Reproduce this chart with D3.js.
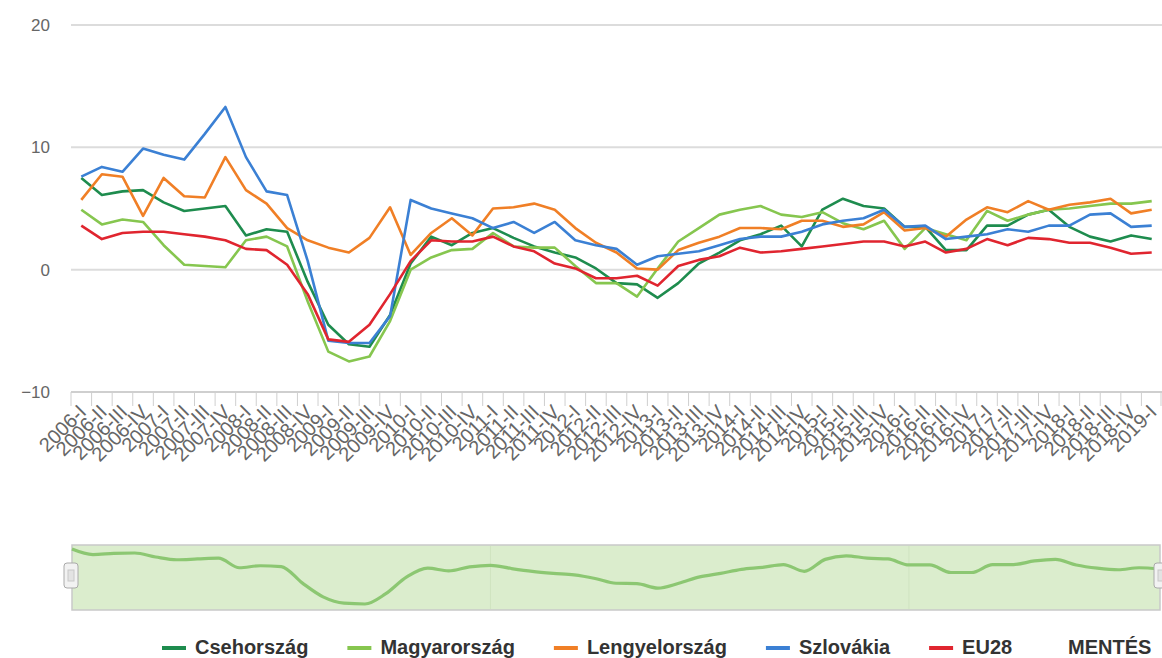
<!DOCTYPE html>
<html>
<head>
<meta charset="utf-8">
<script src="https://cdn.jsdelivr.net/npm/d3@7"></script>
<style>
  body { margin: 0; background: #fff; }
  svg { display: block; font-family: "Liberation Sans", Arial, sans-serif; }
</style>
</head>
<body>
<svg id="chart" width="1162" height="658"></svg>
<script>
  // categories: quarters 2006-I .. 2019-I
  const years = [2006, 2007, 2008, 2009, 2010, 2011, 2012, 2013, 2014, 2015, 2016, 2017, 2018, 2019];
  const quarters = ['I', 'II', 'III', 'IV'];
  const categories = years.flatMap(y => quarters.map(q => y + '-' + q)).slice(0, 53);

  const yTicks = [-10, 0, 10, 20];

  const cseh = [7.5, 6.1, 6.4, 6.5, 5.5, 4.8, 5.0, 5.2, 2.8, 3.3,
    3.1, -1.0, -4.5, -6.1, -6.3, -3.7, 0.5, 2.7, 2.0, 3.0,
    3.4, 2.6, 1.9, 1.4, 1.0, 0.1, -1.1, -1.2, -2.3, -1.1,
    0.5, 1.4, 2.4, 2.9, 3.6, 1.9, 4.9, 5.8, 5.2, 5.0,
    3.5, 3.5, 1.6, 1.6, 3.6, 3.6, 4.5, 4.9, 3.5, 2.7,
    2.3, 2.8, 2.5];
  const magyar = [4.9, 3.7, 4.1, 3.9, 2.0, 0.4, 0.3, 0.2, 2.4, 2.7,
    1.9, -2.6, -6.7, -7.5, -7.1, -4.2, 0.0, 1.0, 1.6, 1.7,
    3.0, 1.9, 1.8, 1.8, 0.3, -1.1, -1.1, -2.2, 0.1, 2.3,
    3.4, 4.5, 4.9, 5.2, 4.5, 4.3, 4.7, 3.8, 3.3, 4.0,
    1.7, 3.4, 2.9, 2.4, 4.8, 4.0, 4.5, 4.9, 5.0, 5.2,
    5.4, 5.4, 5.6];
  const lengyel = [5.7, 7.8, 7.6, 4.4, 7.5, 6.0, 5.9, 9.2, 6.5, 5.4,
    3.4, 2.4, 1.8, 1.4, 2.6, 5.1, 1.2, 3.0, 4.2, 2.8,
    5.0, 5.1, 5.4, 4.9, 3.4, 2.2, 1.4, 0.1, 0.0, 1.6,
    2.2, 2.7, 3.4, 3.4, 3.3, 4.0, 4.0, 3.5, 3.7, 4.7,
    3.2, 3.4, 2.7, 4.1, 5.1, 4.7, 5.6, 4.9, 5.3, 5.5,
    5.8, 4.6, 4.9];
  const szlovak = [7.6, 8.4, 8.0, 9.9, 9.4, 9.0, 11.1, 13.3, 9.2, 6.4,
    6.1, 0.7, -5.8, -6.0, -6.0, -3.8, 5.7, 5.0, 4.6, 4.2,
    3.4, 3.9, 3.0, 3.9, 2.4, 2.0, 1.7, 0.4, 1.1, 1.3,
    1.5, 2.0, 2.5, 2.7, 2.7, 3.1, 3.7, 4.0, 4.2, 4.9,
    3.5, 3.6, 2.5, 2.7, 2.9, 3.3, 3.1, 3.6, 3.6, 4.5,
    4.6, 3.5, 3.6];
  const eu28 = [3.6, 2.5, 3.0, 3.1, 3.1, 2.9, 2.7, 2.4, 1.7, 1.6,
    0.4, -2.0, -5.7, -5.9, -4.5, -2.0, 0.7, 2.4, 2.3, 2.3,
    2.7, 1.9, 1.5, 0.5, 0.1, -0.7, -0.7, -0.5, -1.3, 0.3,
    0.8, 1.1, 1.8, 1.4, 1.5, 1.7, 1.9, 2.1, 2.3, 2.3,
    1.9, 2.3, 1.4, 1.7, 2.5, 2.0, 2.6, 2.5, 2.2, 2.2,
    1.8, 1.3, 1.4];

  const series = [
    { name: 'Csehország', color: '#1e8c4e', values: cseh },
    { name: 'Magyarország', color: '#86c64f', values: magyar },
    { name: 'Lengyelország', color: '#f07f26', values: lengyel },
    { name: 'Szlovákia', color: '#3b80d4', values: szlovak },
    { name: 'EU28', color: '#e0252f', values: eu28 },
  ];

  const svg = d3.select('#chart');

  const x = d3.scaleBand().domain(categories).range([71, 1162]);
  const y = d3.scaleLinear().domain([-10, 20]).range([392, 25]);
  const cx = (c) => x(c) + x.bandwidth() / 2;

  // grid lines
  svg.append('g')
    .selectAll('line')
    .data(yTicks.filter(t => t > -10))
    .enter()
    .append('line')
    .attr('x1', 71).attr('x2', 1162)
    .attr('y1', d => y(d)).attr('y2', d => y(d))
    .attr('stroke', '#dcdcdc')
    .attr('stroke-width', 2);

  // y axis labels
  const yAxis = svg.append('g')
    .attr('transform', 'translate(50,0)')
    .call(d3.axisLeft(y).tickValues(yTicks).tickSize(0).tickPadding(0));
  yAxis.select('.domain').remove();
  yAxis.selectAll('text')
    .attr('fill', '#666')
    .style('font-size', '17px')
    .style('font-family', '"Liberation Sans", Arial, sans-serif');

  // x axis line + boundary ticks
  svg.append('line')
    .attr('x1', 71).attr('x2', 1162)
    .attr('y1', 392).attr('y2', 392)
    .attr('stroke', '#cfcfcf').attr('stroke-width', 2);

  const bounds = categories.map(c => x(c)).concat([x.range()[1] - 1]);
  svg.append('g')
    .selectAll('line')
    .data(bounds)
    .enter()
    .append('line')
    .attr('x1', d => d).attr('x2', d => d)
    .attr('y1', 392).attr('y2', 406)
    .attr('stroke', '#cfcfcf').attr('stroke-width', 1);

  svg.append('g')
    .selectAll('text')
    .data(categories)
    .enter()
    .append('text')
    .attr('transform', c => `translate(${cx(c) - 4},${403}) rotate(-45)`)
    .attr('text-anchor', 'end')
    .attr('dy', '0.72em')
    .attr('fill', '#666')
    .style('font-size', '20px')
    .text(c => c);

  // series lines
  const line = d3.line()
    .x((d, i) => cx(categories[i]))
    .y(d => y(d));

  svg.append('g')
    .selectAll('path')
    .data(series)
    .enter()
    .append('path')
    .attr('d', s => line(s.values))
    .attr('fill', 'none')
    .attr('stroke', s => s.color)
    .attr('stroke-width', 2.6)
    .attr('stroke-linejoin', 'round');

  // navigator
  const nav = svg.append('g');
  const xn = d3.scaleLinear().domain([0, categories.length - 1]).range([72, 1160]);
  const yn = d3.scaleLinear().domain(d3.extent(cseh)).range([604, 549]);

  nav.append('rect')
    .attr('x', 72).attr('y', 545)
    .attr('width', 1088).attr('height', 65)
    .attr('fill', '#dbedcd')
    .attr('stroke', '#c9c9c9').attr('stroke-width', 1.5);

  nav.selectAll('line.grid')
    .data([20, 40])
    .enter()
    .append('line')
    .attr('class', 'grid')
    .attr('x1', d => xn(d)).attr('x2', d => xn(d))
    .attr('y1', 546).attr('y2', 609)
    .attr('stroke', '#cfe3c0').attr('stroke-width', 1);

  nav.append('path')
    .attr('d', d3.line()
      .x((d, i) => xn(i))
      .y(d => yn(d))
      .curve(d3.curveMonotoneX)(cseh))
    .attr('fill', 'none')
    .attr('stroke', '#8cc772')
    .attr('stroke-width', 3.2);

  // handles
  [64, 1154].forEach(hx => {
    const h = nav.append('g').attr('transform', `translate(${hx},563)`);
    h.append('rect')
      .attr('width', 14).attr('height', 25).attr('rx', 3)
      .attr('fill', '#f2f2f2').attr('stroke', '#aaa');
    h.append('rect')
      .attr('x', 4).attr('y', 7).attr('width', 6).attr('height', 11)
      .attr('fill', '#e3e3e3').attr('stroke', '#c8c8c8');
  });

  // legend
  const legend = svg.append('g').attr('transform', 'translate(0,654)');
  let lx = 162;
  series.forEach(s => {
    const item = legend.append('g').attr('transform', `translate(${lx},0)`);
    item.append('line')
      .attr('x1', 0).attr('x2', 24)
      .attr('y1', -6).attr('y2', -6)
      .attr('stroke', s.color).attr('stroke-width', 4);
    const t = item.append('text')
      .attr('x', 33)
      .attr('fill', '#333')
      .style('font-size', '20px')
      .style('font-weight', 'bold')
      .text(s.name);
    lx += 33 + t.node().getComputedTextLength() + 39;
  });
  legend.append('text')
    .attr('x', 1068)
    .attr('fill', '#333')
    .style('font-size', '20px')
    .style('font-weight', 'bold')
    .text('MENTÉS');
</script>
</body>
</html>
